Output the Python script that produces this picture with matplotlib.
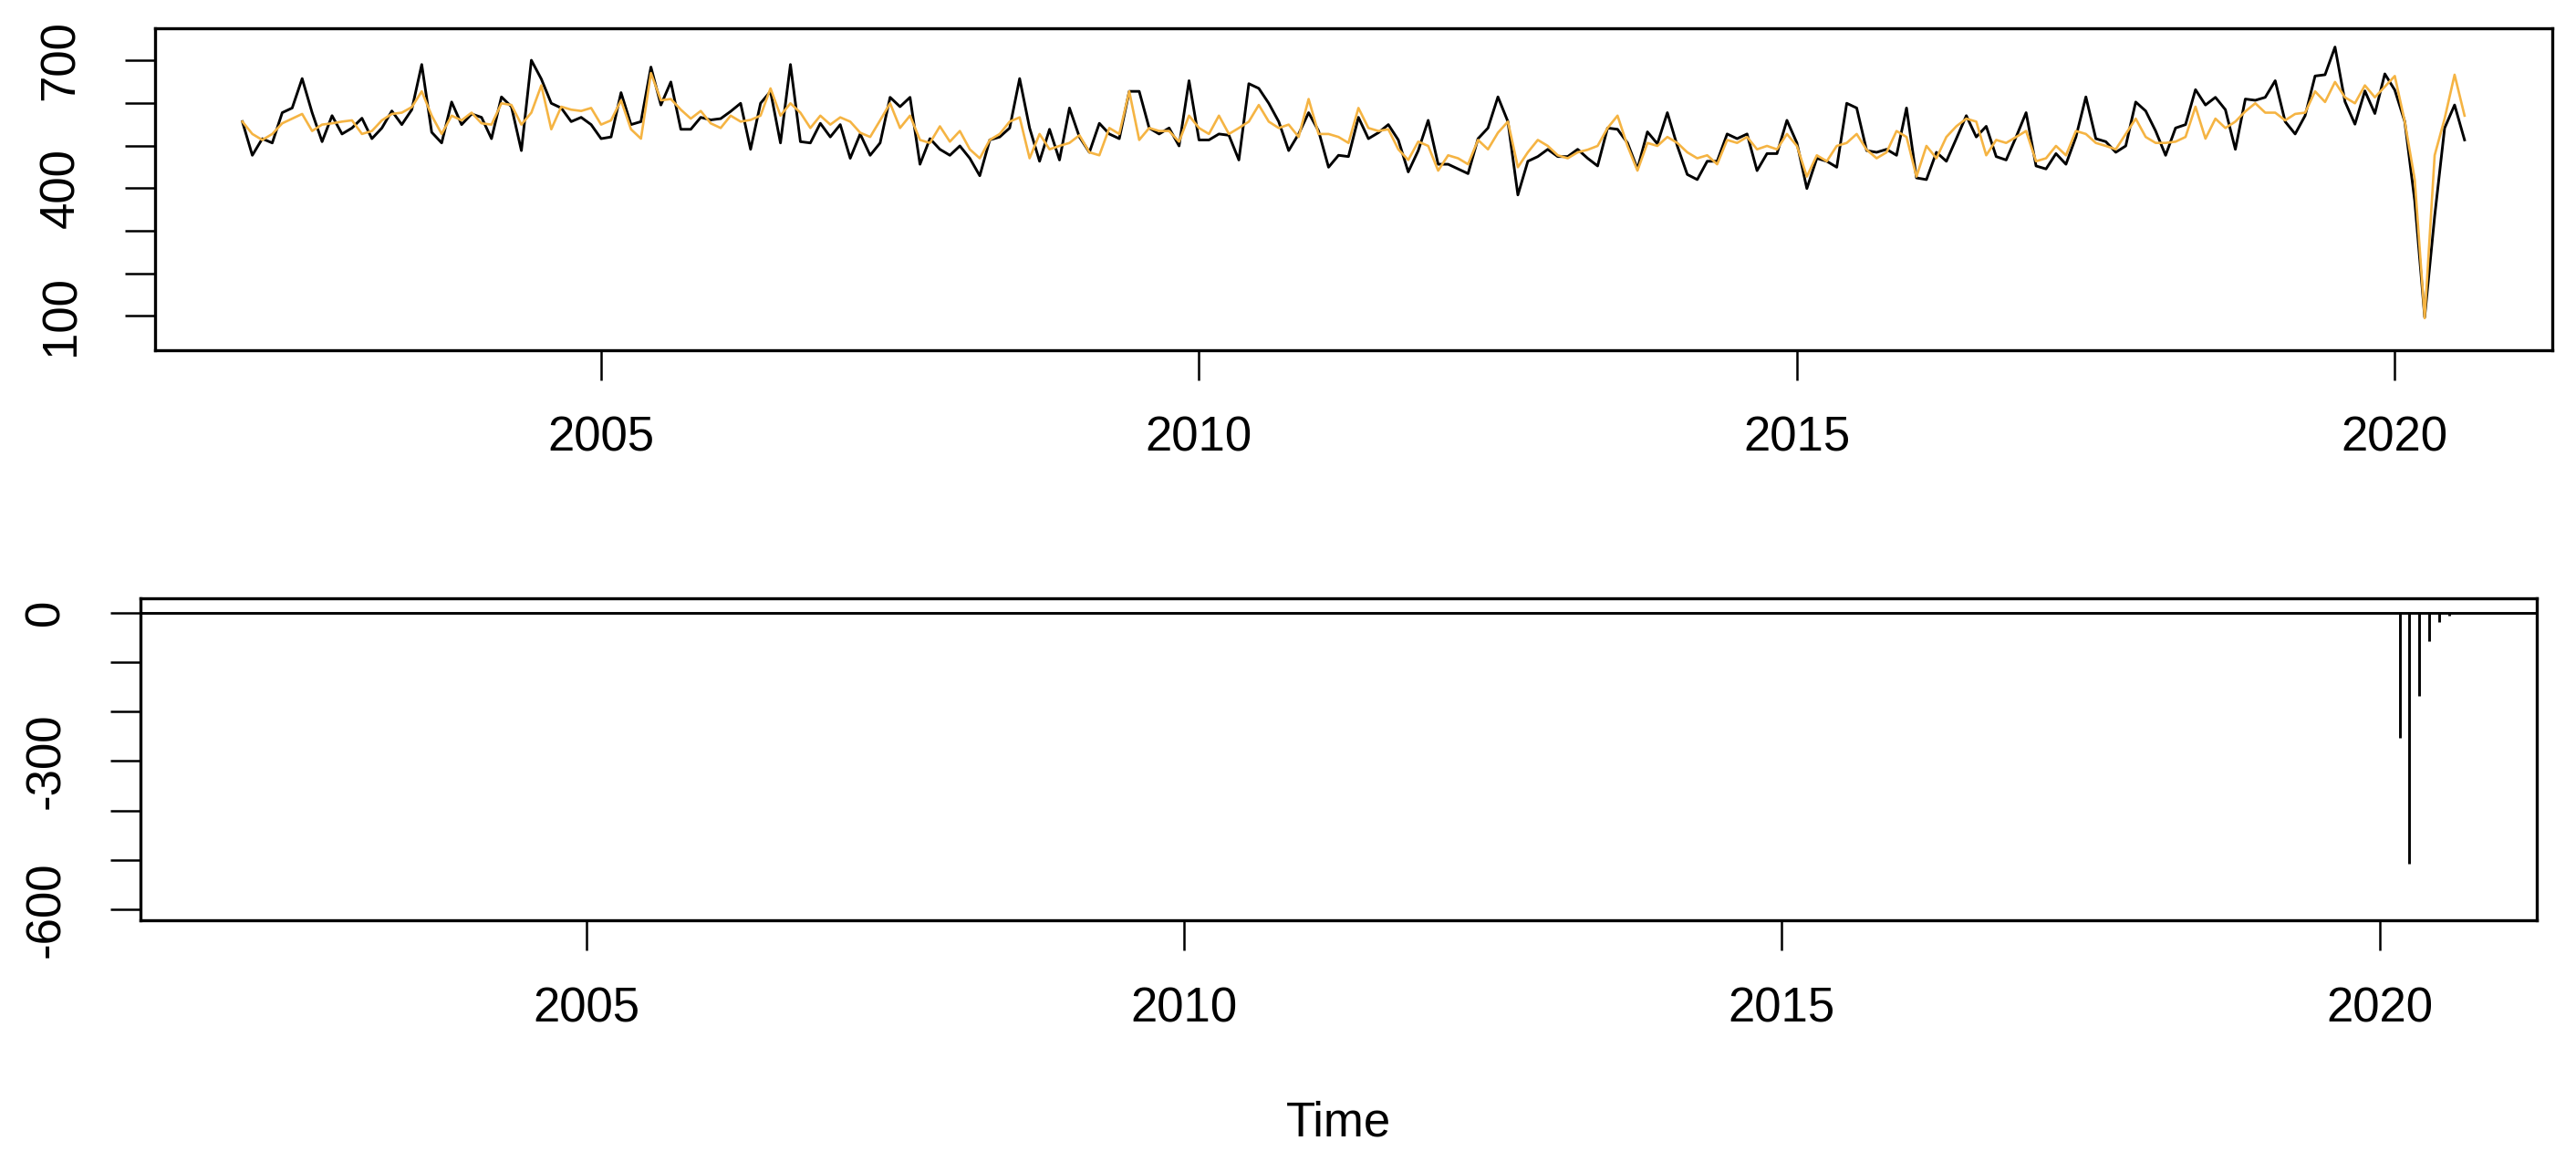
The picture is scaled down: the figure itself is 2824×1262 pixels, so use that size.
import numpy as np
import pandas as pd
import matplotlib
matplotlib.use('Agg')
import matplotlib.pyplot as plt

matplotlib.rcParams.update({'font.family': ['Liberation Sans', 'DejaVu Sans'], 'font.size': 38})

# monthly series, Jan 2002 - Aug 2020
start = '2002-01'
n_months = 224

observed = [
    556, 477, 516, 506, 577, 588, 657, 577, 509, 570, 527, 541,
    564, 516, 541, 581, 549, 584, 690, 531, 506, 602, 549, 574,
    566, 516, 614, 591, 488, 700, 656, 599, 588, 556, 566, 549,
    516, 520, 624, 549, 556, 684, 595, 649, 538, 538, 566, 560,
    563, 580, 599, 491, 599, 627, 506, 690, 509, 506, 552, 520,
    549, 470, 527, 477, 506, 613, 591, 613, 456, 516, 491, 477,
    499, 470, 429, 513, 520, 541, 657, 541, 463, 538, 466, 588,
    520, 484, 552, 527, 516, 627, 627, 541, 527, 541, 499, 652,
    513, 513, 527, 524, 466, 645, 634, 599, 556, 488, 527, 577,
    534, 449, 477, 474, 566, 516, 530, 549, 513, 438, 488, 559,
    456, 456, 445, 434, 516, 541, 614, 556, 384, 463, 474, 491,
    474, 474, 491, 470, 452, 541, 538, 506, 445, 532, 504, 577,
    499, 432, 420, 463, 463, 527, 516, 527, 441, 481, 481, 559,
    506, 399, 470, 463, 449, 599, 588, 488, 484, 491, 477, 588,
    424, 420, 484, 463, 516, 570, 520, 545, 474, 466, 520, 577,
    452, 445, 481, 456, 520, 614, 516, 509, 484, 499, 602, 581,
    534, 477, 541, 549, 631, 595, 613, 584, 491, 609, 606, 613,
    652, 556, 527, 570, 663, 666, 731, 603, 550, 628, 575, 668,
    630, 556, 370, 97, 334, 541, 595, 513,
]

fitted = [
    556, 527, 513, 527, 552, 563, 574, 534, 549, 552, 556, 559,
    527, 534, 559, 574, 577, 590, 627, 570, 527, 570, 559, 577,
    552, 549, 599, 595, 549, 577, 641, 538, 591, 584, 581, 588,
    549, 559, 606, 538, 516, 670, 606, 609, 584, 563, 581, 552,
    541, 570, 556, 560, 570, 634, 570, 599, 577, 541, 570, 549,
    566, 556, 530, 520, 559, 599, 541, 570, 513, 506, 545, 509,
    534, 491, 470, 513, 527, 556, 566, 470, 527, 491, 499, 506,
    524, 484, 477, 541, 527, 627, 513, 541, 534, 534, 509, 570,
    541, 527, 570, 527, 541, 556, 595, 556, 541, 549, 520, 609,
    527, 527, 520, 506, 588, 541, 534, 538, 491, 466, 509, 499,
    441, 477, 470, 456, 513, 491, 530, 556, 449, 484, 513, 499,
    477, 470, 484, 490, 499, 541, 570, 499, 441, 506, 499, 520,
    506, 484, 470, 477, 456, 513, 506, 520, 491, 499, 491, 527,
    499, 427, 477, 463, 499, 506, 527, 490, 470, 484, 534, 520,
    427, 499, 470, 520, 545, 563, 556, 477, 513, 506, 520, 534,
    463, 470, 499, 477, 534, 527, 506, 499, 491, 527, 563, 520,
    506, 506, 509, 520, 591, 516, 563, 541, 556, 580, 599, 577,
    577, 559, 574, 577, 627, 602, 649, 613, 599, 641, 613, 638,
    663, 556, 420, 95, 477, 563, 666, 570,
]

# outlier effects (lower panel)
effect_dates = ['2020-03', '2020-04', '2020-05', '2020-06', '2020-07', '2020-08']
effect_values = [-253, -507, -169, -57, -20, -5.5]

def decimal_year(idx):
    return idx.year + (idx.month - 1) / 12.0

t = decimal_year(pd.period_range(start, periods=n_months, freq='M'))
t_eff = decimal_year(pd.PeriodIndex(effect_dates, freq='M'))

xlim = (2001.27, 2021.315)
xticks = [2005, 2010, 2015, 2020]

fig = plt.figure(figsize=(28.24, 12.62), dpi=100)

ax1 = fig.add_axes([0.0602, 0.6961, 0.9305, 0.2796])
ax1.plot(t, observed, color='black', lw=2.1)
ax1.plot(t, fitted, color='#F5B443', lw=1.9)
ax1.set_xlim(xlim)
ax1.set_ylim(20.7, 775.7)
ax1.set_yticks(range(100, 800, 100))
ax1.set_yticklabels(['100', '', '', '400', '', '', '700'])

ax2 = fig.add_axes([0.0544, 0.2005, 0.9304, 0.2800])
ax2.axhline(0, color='black', lw=2.1)
ax2.vlines(t_eff, 0, effect_values, color='black', lw=2.1)
ax2.set_xlim(xlim)
ax2.set_ylim(-622, 29.5)
ax2.set_yticks(range(-600, 100, 100))
ax2.set_yticklabels(['-600', '', '', '-300', '', '', '0'])
ax2.set_xlabel('Time', labelpad=54)

for ax in (ax1, ax2):
    ax.set_xticks(xticks)
    for s in ax.spines.values():
        s.set_linewidth(2.4)
    ax.tick_params(axis='both', direction='out', length=24, width=1.8)
    ax.tick_params(axis='x', pad=28)
    ax.tick_params(axis='y', pad=32)
    for lab in ax.get_yticklabels():
        lab.set_rotation(90)
        lab.set_va('center')

plt.savefig('out.png', dpi=100)
